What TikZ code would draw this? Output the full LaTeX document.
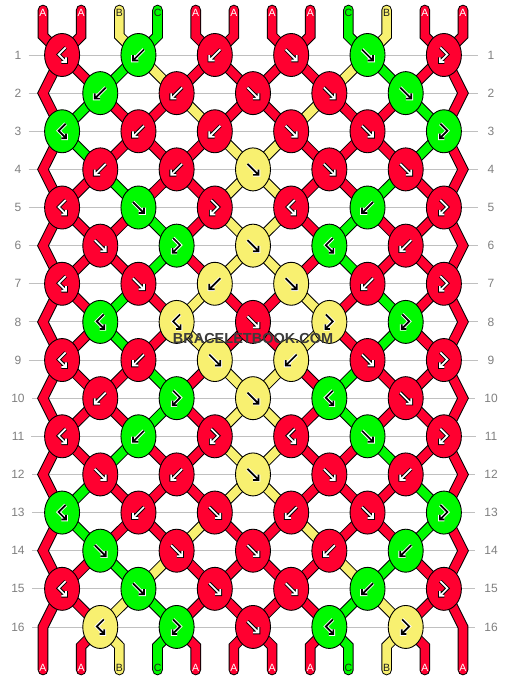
\documentclass[tikz,border=0pt]{standalone}
\usepackage{fontspec}
\setmainfont{Liberation Sans}
\usetikzlibrary{shapes.geometric}
\definecolor{colA}{RGB}{255,0,48}
\definecolor{colB}{RGB}{248,240,112}
\definecolor{colC}{RGB}{0,250,0}
\definecolor{txtA}{RGB}{255,255,255}
\definecolor{txtB}{RGB}{30,30,30}
\definecolor{txtC}{RGB}{30,30,30}
\definecolor{linegray}{RGB}{192,192,192}
\definecolor{numgray}{RGB}{128,128,128}
\definecolor{wmgray}{RGB}{60,60,60}
\pgfdeclarelayer{back}
\pgfdeclarelayer{bg}
\pgfsetlayers{back,bg,main}
\def\DX{38.18}
\def\DY{38.13}
\newcommand\kicoF[3]{\draw[#3,line cap=butt,line join=miter,shift={(#1,#2)}] (-5.5,-5.5) -- (5.5,5.5) (0.2,5.5) -- (5.5,5.5) -- (5.5,0.2);}
\newcommand\kicoB[3]{\draw[#3,line cap=butt,line join=miter,shift={(#1,#2)}] (5.5,-5.5) -- (-5.5,5.5) (-0.2,5.5) -- (-5.5,5.5) -- (-5.5,0.2);}
\newcommand\kicoFB[3]{\draw[#3,line cap=butt,line join=miter,shift={(#1,#2)}] (-3.5,-7.5) -- (3.5,-0.5) -- (-4,7) (0.6,7) -- (-4,7) -- (-4,2.4);}
\newcommand\kicoBF[3]{\draw[#3,line cap=butt,line join=miter,shift={(#1,#2)}] (3.5,-7.5) -- (-3.5,-0.5) -- (4,7) (-0.6,7) -- (4,7) -- (4,2.4);}
\newcommand\knoticon[4]{%
  \edef\tmpc{#2}\def\tmpA{A}%
  \ifx\tmpc\tmpA\def\icobg{black}\def\icofg{white}\else\def\icobg{white}\def\icofg{black}\fi
  \csname kico#1\endcsname{#3}{#4}{draw=\icobg,line width=3.6pt}%
  \csname kico#1\endcsname{#3}{#4}{draw=\icofg,line width=1.7pt}%
}
\begin{document}
\begin{tikzpicture}[x=1pt,y=-1pt,
  knot/.style={ellipse,draw=black,line width=0.9pt,minimum width=35pt,minimum height=43pt,inner sep=0pt},
  strand/.style={draw=black,line width=1pt,double distance=8.6pt,line join=miter,line cap=round},
  rowline/.style={draw=linegray,line width=0.9pt},
  rownum/.style={text=numgray,font=\fontsize{12}{12}\selectfont,inner sep=0pt},
  endlbl/.style={font=\fontsize{10.5}{10.5}\selectfont,inner sep=0pt}]
\begin{pgfonlayer}{back}
\useasboundingbox[fill=white] (0,0) rectangle (506,680);
\end{pgfonlayer}
% coordinates
\foreach \r in {1,...,16}{
  \pgfmathsetmacro\y{55+\DY*(\r-1)}
  \coordinate (eL-\r) at (43,\y);
  \coordinate (eR-\r) at (462.98,\y);
  \node[rownum] (ln\r) at (18,\y) {\r};
  \node[rownum] (rn\r) at (491,\y) {\r};
}
\foreach \p in {1,...,12}{
  \pgfmathsetmacro\x{43+\DX*(\p-1)}
  \coordinate (t-\p) at (\x,10);
  \coordinate (tb-\p) at (\x,35.9);
  \coordinate (bb-\p) at (\x,646.1);
  \coordinate (b-\p) at (\x,670);
}
% knots
\foreach \r/\row in {
 1/{A/BF,C/B,A/B,A/F,C/F,A/FB},
 2/{C/B,A/B,A/F,A/F,C/F},
 3/{C/BF,A/B,A/B,A/F,A/F,C/FB},
 4/{A/B,A/B,B/F,A/F,A/F},
 5/{A/BF,C/F,A/FB,A/BF,C/B,A/FB},
 6/{A/F,C/FB,B/F,C/BF,A/B},
 7/{A/BF,A/F,B/B,B/F,A/B,A/FB},
 8/{C/BF,B/BF,A/F,B/FB,C/FB},
 9/{A/BF,A/B,B/F,B/B,A/F,A/FB},
 10/{A/B,C/FB,B/F,C/BF,A/F},
 11/{A/BF,C/B,A/FB,A/BF,C/F,A/FB},
 12/{A/F,A/B,B/F,A/F,A/B},
 13/{C/BF,A/B,A/F,A/B,A/F,C/FB},
 14/{C/F,A/F,A/F,A/B,C/B},
 15/{A/BF,C/F,A/F,A/F,C/B,A/FB},
 16/{B/BF,C/FB,A/F,C/BF,B/FB}}{
  \pgfmathsetmacro\y{55+\DY*(\r-1)}
  \pgfmathsetmacro\off{isodd(\r) ? 1.5 : 0.5}
  \foreach \c/\t [count=\k] in \row {
    \pgfmathsetmacro\x{43+\DX*(2*\k-\off)}
    \node[knot,fill=col\c] (k-\r-\k) at (\x,\y) {};
    \knoticon{\t}{\c}{\x}{\y}
  }
}
\begin{pgfonlayer}{bg}
\foreach \r in {1,...,16}{
  \draw[rowline] (ln\r.east) ++(7,0) -- ([xshift=-9pt]rn\r.west);
}
\draw[strand,double=colA] (t-1) -- (tb-1) -- (k-1-1.center) -- (eL-2) -- (k-3-1.center) -- (eL-4) -- (k-5-1.center) -- (eL-6) -- (k-7-1.center) -- (eL-8) -- (k-9-1.center) -- (eL-10) -- (k-11-1.center) -- (eL-12) -- (k-13-1.center) -- (eL-14) -- (k-15-1.center) -- (eL-16) -- (b-1);
\draw[strand,double=colA] (t-12) -- (tb-12) -- (k-1-6.center) -- (eR-2) -- (k-3-6.center) -- (eR-4) -- (k-5-6.center) -- (eR-6) -- (k-7-6.center) -- (eR-8) -- (k-9-6.center) -- (eR-10) -- (k-11-6.center) -- (eR-12) -- (k-13-6.center) -- (eR-14) -- (k-15-6.center) -- (eR-16) -- (b-12);
\foreach \r/\st in {
 0/{A,A,B,C,A,A,A,A,C,B,A,A},
 1/{A,A,C,B,A,A,A,A,B,C,A,A},
 2/{A,C,A,A,B,A,A,B,A,A,C,A},
 3/{A,C,A,A,A,B,B,A,A,A,C,A},
 4/{A,A,C,A,A,B,B,A,A,C,A,A},
 5/{A,A,A,C,A,B,B,A,C,A,A,A},
 6/{A,A,A,C,A,B,B,A,C,A,A,A},
 7/{A,A,C,A,B,A,A,B,A,C,A,A},
 8/{A,A,C,A,B,A,A,B,A,C,A,A},
 9/{A,A,A,C,A,B,B,A,C,A,A,A},
 10/{A,A,A,C,A,B,B,A,C,A,A,A},
 11/{A,A,C,A,A,B,B,A,A,C,A,A},
 12/{A,C,A,A,A,B,B,A,A,A,C,A},
 13/{A,C,A,A,B,A,A,B,A,A,C,A},
 14/{A,A,C,B,A,A,A,A,B,C,A,A},
 15/{A,A,B,C,A,A,A,A,C,B,A,A},
 16/{A,A,B,C,A,A,A,A,C,B,A,A}}{
  \foreach \s [count=\p] in \st {
    \ifnum\p>1 \ifnum\p<12
      \pgfmathtruncatemacro\ka{isodd(\r) ? (\p+1)/2 : \p/2}
      \pgfmathtruncatemacro\kb{isodd(\r+1) ? (\p+1)/2 : \p/2}
      \pgfmathtruncatemacro\rn{\r+1}
      \ifnum\r=0
        \draw[strand,double=col\s] (t-\p) -- (tb-\p) -- (k-1-\kb.center);
      \else\ifnum\r=16
        \draw[strand,double=col\s] (k-16-\ka.center) -- (bb-\p) -- (b-\p);
      \else
        \draw[strand,double=col\s] (k-\r-\ka.center) -- (k-\rn-\kb.center);
      \fi\fi
    \fi\fi
  }
}
\end{pgfonlayer}
% end labels
\foreach \s [count=\p] in {A,A,B,C,A,A,A,A,C,B,A,A}{
  \node[endlbl,text=txt\s] (lt-\p) at (t-\p) [yshift=-2.6pt] {\s};
  \node[endlbl,text=txt\s] (lb-\p) at (b-\p) [yshift=2.3pt] {\s};
}
\node[font=\bfseries\fontsize{14.5}{14.5}\selectfont,text=wmgray,inner sep=0pt] (wm) at (253,339) {BRACELETBOOK.COM};
\end{tikzpicture}
\end{document}
